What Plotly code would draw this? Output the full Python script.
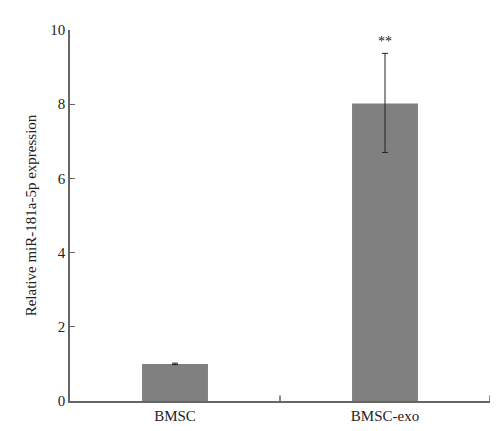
import plotly.graph_objects as go

categories = ["BMSC", "BMSC-exo"]
values = [1.0, 8.02]
err_plus = [0.02, 1.35]
err_minus = [0.02, 1.32]
y_ticks = [0, 2, 4, 6, 8, 10]

fig = go.Figure()
fig.add_trace(go.Bar(
    x=categories, y=values, marker=dict(color="#808080", line=dict(width=0)),
    width=0.314,
    error_y=dict(type="data", array=err_plus, arrayminus=err_minus,
                 color="#222", thickness=1, width=3),
))
fig.add_annotation(x="BMSC-exo", y=values[1] + err_plus[1], text="**",
                   showarrow=False, yanchor="bottom", yshift=2,
                   font=dict(family="Liberation Serif, serif", size=14, color="#222"))

axis_font = dict(family="Liberation Serif, serif", size=15, color="#222")
fig.update_layout(
    width=500, height=431, plot_bgcolor="white", paper_bgcolor="white",
    margin=dict(l=62, r=18, t=22, b=38), showlegend=False,
    font=axis_font,
    xaxis=dict(range=[-0.5, 1.5], showline=True, linecolor="#666", linewidth=1.5,
               ticks="", showgrid=False, tickfont=axis_font),
    yaxis=dict(range=[0, 10], tickvals=y_ticks, showline=True, linecolor="#666",
               linewidth=1.5, ticks="inside", ticklen=5, tickcolor="#666",
               showgrid=False, zeroline=False, tickfont=axis_font,
               title=dict(text="Relative miR-181a-5p expression", font=axis_font,
                          standoff=10)),
)
# category boundary ticks on the x axis
for xv in [0.5, 1.5]:
    fig.add_shape(type="line", xref="x", yref="paper", x0=xv, x1=xv, y0=0, y1=0.015,
                  line=dict(color="#666", width=1.5))

fig.write_html("out.html")
